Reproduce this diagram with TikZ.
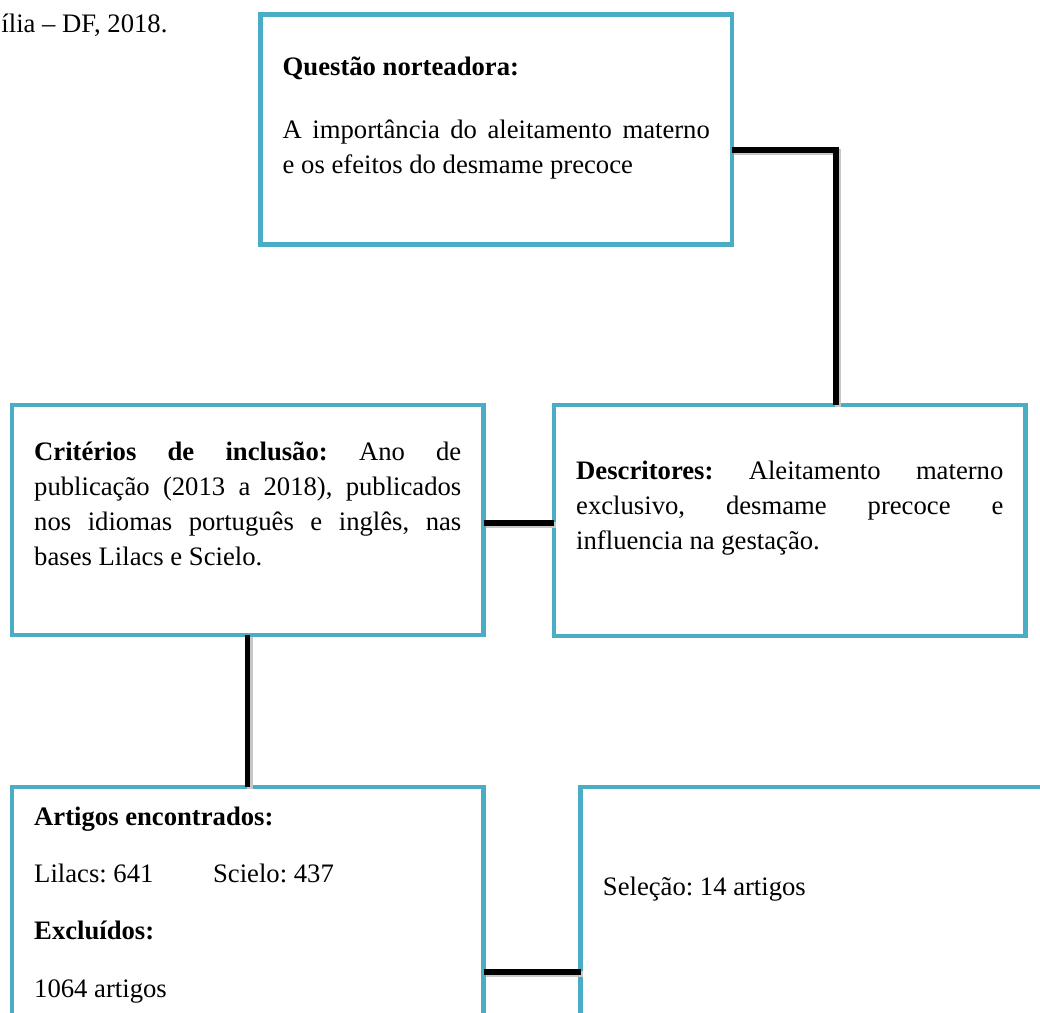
\documentclass[tikz,border=0pt]{standalone}
\usepackage{fontspec}
\setmainfont{Liberation Serif}
\definecolor{boxblue}{HTML}{4BACC6}

\begin{document}
\begin{tikzpicture}[x=0.45pt, y=-0.45pt,
  caixa/.style={draw=boxblue, line width=2pt, anchor=base west, outer sep=0pt, inner xsep=10pt, inner ysep=0pt,
    text width=192.2pt, align=justify, font=\fontsize{12}{15.87}\selectfont\frenchspacing},
  ligacao/.style={line width=2.3pt, preaction={draw=black!22, line width=2.6pt, transform canvas={shift={(0.9pt,-0.9pt)}}}}]

  \useasboundingbox (0,0) rectangle (1040,1012);
  \clip (0,0) rectangle (1040,1012);

\node[anchor=base west, inner sep=0pt, font=\fontsize{12}{15.87}\selectfont] (local) at (1,32) {ília – DF, 2018.};

\node[caixa, text height=27.2pt, text depth=76.3pt] (questao) at (260.5,75) {\textbf{Questão norteadora:}\\[12.5pt]A importância do aleitamento materno\linebreak e os efeitos do desmame precoce};

\node[caixa, text height=24.75pt, text depth=78.75pt] (criterios) at (12,460) {\textbf{Critérios de inclusão:} Ano de\linebreak publicação (2013 a 2018), publicados\linebreak nos idiomas português e inglês, nas\linebreak bases Lilacs e Scielo.};

\node[caixa, text height=33.3pt, text depth=70.65pt] (descritores) at (554,479) {\textbf{Descritores:} Aleitamento materno\linebreak exclusivo, desmame precoce e\linebreak influencia na gestação.};

\node[caixa, text height=17.1pt, text depth=92pt] (artigos) at (12,825) {\textbf{Artigos encontrados:}\\[10pt]\makebox[80.5pt][l]{Lilacs: 641}Scielo: 437\\[10pt]\textbf{Excluídos:}\\[10pt]1064 artigos};

\node[caixa, text height=48.6pt, text depth=60.75pt] (selecao) at (580.7,895) {Seleção: 14 artigos};

  \coordinate (cotovelo) at (836,150);
\draw[ligacao](questao.east |- cotovelo)--(cotovelo)--(cotovelo |- descritores.north);

\draw[ligacao](criterios.east |- 0,523)--(descritores.west |- 0,523);

\draw[ligacao](criterios.south)--(artigos.north);

  \draw[ligacao](artigos.east |- 0,972)--(selecao.west |- 0,972);
\end{tikzpicture}
\end{document}
